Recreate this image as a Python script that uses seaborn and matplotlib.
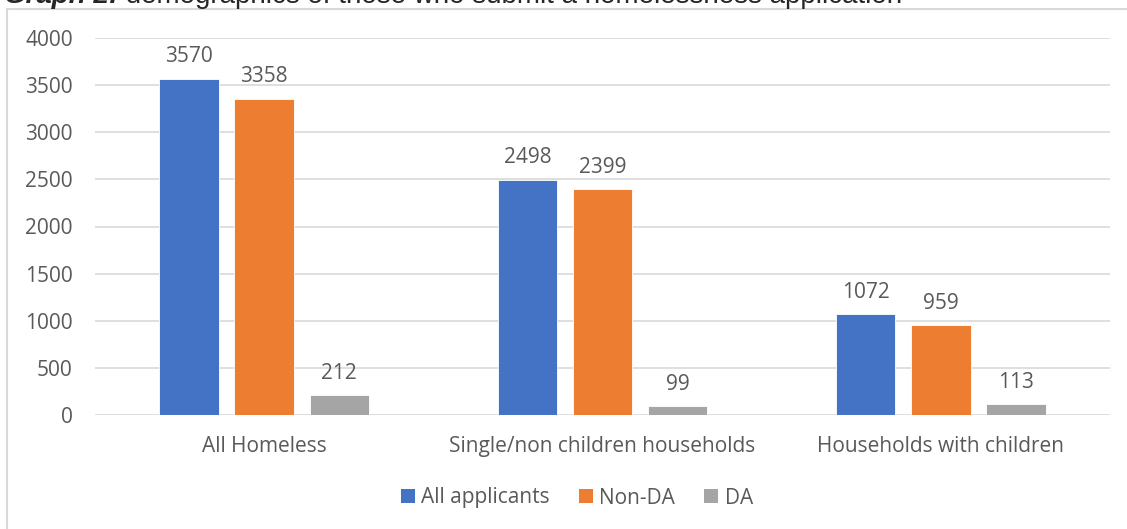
import pandas as pd
import matplotlib.pyplot as plt
import seaborn as sns
from matplotlib.patches import Rectangle, Patch

# chart values
categories = ['All Homeless', 'Single/non children households', 'Households with children']
series = ['All applicants', 'Non-DA', 'DA']
all_applicants = [3570, 2498, 1072]
non_da = [3358, 2399, 959]
da = [212, 99, 113]
colors = ['#4472C4', '#ED7D31', '#A5A5A5']

df = pd.DataFrame({
    'category': categories * 3,
    'series': [series[0]] * 3 + [series[1]] * 3 + [series[2]] * 3,
    'value': all_applicants + non_da + da,
})

sns.set_style('white')
plt.rcParams['font.family'] = ['Open Sans', 'DejaVu Sans']
txt = '#595959'
fs = 15

fig = plt.figure(figsize=(11.27, 5.29), dpi=100)
ax = fig.add_axes([95 / 1127, 1 - 415 / 529, 1015 / 1127, 377 / 529])

sns.barplot(data=df, x='category', y='value', hue='series', order=categories,
            hue_order=series, palette=colors, saturation=1, width=0.666, gap=0.21,
            edgecolor='white', linewidth=0.6, legend=False, ax=ax)

for c in ax.containers:
    ax.bar_label(c, padding=8, fontsize=fs, color=txt)

ax.set_xlim(-0.5, 2.5)
ax.set_ylim(0, 4000)
ax.set_yticks(range(0, 4001, 500))
ax.yaxis.grid(True, color='#D9D9D9', linewidth=1.2)
ax.set_axisbelow(True)
for s in ['top', 'right', 'left', 'bottom']:
    ax.spines[s].set_visible(False)
ax.tick_params(axis='y', length=0, pad=16, labelsize=fs, labelcolor=txt)
ax.tick_params(axis='x', length=0, pad=15, labelsize=fs, labelcolor=txt)
ax.set_xlabel('')
ax.set_ylabel('')

handles = [Patch(facecolor=c, edgecolor='none') for c in colors]
fig.legend(handles, series, loc='center', bbox_to_anchor=(0.512, 1 - 498 / 529),
           ncol=3, frameon=False, fontsize=fs, handlelength=0.67, handleheight=0.67,
           handletextpad=0.3, columnspacing=1.4, labelcolor=txt)

# chart frame
fig.patches.append(Rectangle((7 / 1127, -0.05), 1.2, 1 - 9 / 529 + 0.05,
                             transform=fig.transFigure, fill=False,
                             edgecolor='#D9D9D9', linewidth=1.5))

# title, clipped by the top of the picture as in the source
t1 = fig.text(4 / 1127, 1 - 3 / 529, 'Graph 2:', fontsize=20, fontweight='bold',
              fontstyle='italic', family='Liberation Sans', va='baseline')
t2 = fig.text(0, 0, ' demographics of those who submit a homelessness application',
              fontsize=20, family='Liberation Sans', va='baseline')
fig.canvas.draw()
bb = t1.get_window_extent().transformed(fig.transFigure.inverted())
t2.set_position((bb.x1, 1 - 3 / 529))

fig.savefig('out.png', dpi=100)
